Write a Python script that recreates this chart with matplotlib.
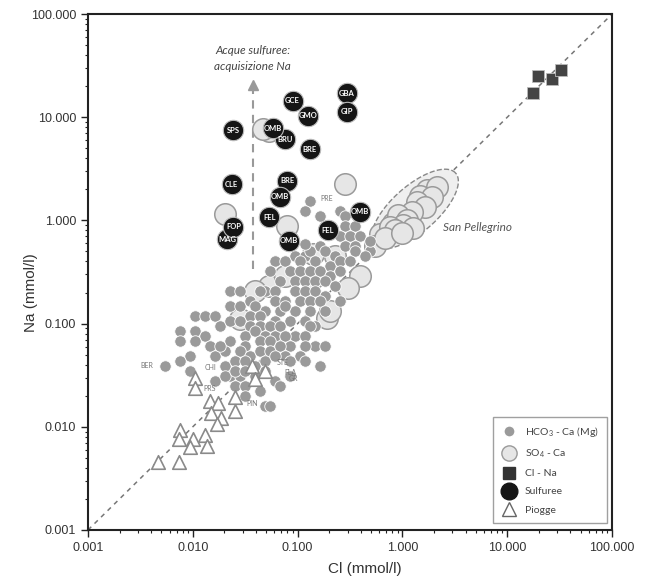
import numpy as np
import matplotlib
matplotlib.use("Agg")
import matplotlib.pyplot as plt
from matplotlib.lines import Line2D
from matplotlib.ticker import LogLocator, FuncFormatter, NullFormatter

plt.rcParams['font.family'] = ['Liberation Sans', 'DejaVu Sans']
plt.rcParams['mathtext.fontset'] = 'custom'
plt.rcParams['mathtext.rm'] = 'Lato'
plt.rcParams['mathtext.default'] = 'rm'

# HCO3 - Ca (Mg) waters, Cl vs Na (mmol/l)
hco3_cl = [0.131, 0.118, 0.254, 0.164, 0.283, 0.283, 0.353, 0.254, 0.316, 0.394,
           0.491, 0.164, 0.283, 0.353, 0.491, 0.0944, 0.118, 0.131, 0.183, 0.227,
           0.353, 0.440, 0.0609, 0.0758, 0.105, 0.147, 0.204, 0.254, 0.316, 0.0546,
           0.0846, 0.105, 0.131, 0.164, 0.204, 0.254, 0.0679, 0.0944, 0.118, 0.147,
           0.183, 0.227, 0.0489, 0.0609, 0.0944, 0.118, 0.147, 0.183, 0.0609, 0.0758,
           0.105, 0.131, 0.164, 0.254, 0.0489, 0.0679, 0.0944, 0.131, 0.183, 0.0609,
           0.0846, 0.118, 0.147, 0.0226, 0.0282, 0.0438, 0.0226, 0.0282, 0.0352, 0.0392,
           0.0105, 0.0131, 0.0163, 0.0352, 0.0438, 0.0182, 0.0226, 0.0282, 0.0352, 0.0438,
           0.0546, 0.00755, 0.0105, 0.0131, 0.0226, 0.0315, 0.0392, 0.0489, 0.0609, 0.00755,
           0.0105, 0.0146, 0.0315, 0.0438, 0.0546, 0.00939, 0.0163, 0.0203, 0.0282, 0.0352,
           0.0438, 0.0546, 0.00543, 0.00755, 0.0203, 0.0253, 0.0315, 0.0392, 0.0489, 0.0226,
           0.0282, 0.0392, 0.0489, 0.0253, 0.0315, 0.0438, 0.0758, 0.131, 0.0679, 0.0944,
           0.118, 0.0758, 0.147, 0.183, 0.118, 0.0846, 0.0679, 0.105, 0.0758, 0.0609,
           0.0846, 0.118, 0.164, 0.0609, 0.0679, 0.0489, 0.0546, 0.00939, 0.0163, 0.0203,
           0.0315, 0.0846, 0.0182, 0.0253, 0.0315, 0.118]
hco3_na = [1.55, 1.24, 1.24, 1.11, 1.11, 0.887, 0.887, 0.710, 0.710, 0.710,
           0.507, 0.567, 0.567, 0.567, 0.634, 0.454, 0.454, 0.507, 0.507, 0.454,
           0.507, 0.454, 0.406, 0.406, 0.406, 0.406, 0.363, 0.406, 0.406, 0.325,
           0.325, 0.325, 0.325, 0.325, 0.291, 0.325, 0.260, 0.260, 0.260, 0.260,
           0.260, 0.232, 0.208, 0.208, 0.208, 0.208, 0.208, 0.186, 0.166, 0.166,
           0.166, 0.166, 0.166, 0.166, 0.133, 0.133, 0.133, 0.133, 0.133, 0.106,
           0.106, 0.106, 0.0952, 0.208, 0.208, 0.208, 0.149, 0.149, 0.166, 0.149,
           0.119, 0.119, 0.119, 0.119, 0.119, 0.0952, 0.106, 0.106, 0.0952, 0.0952,
           0.0952, 0.0851, 0.0851, 0.0762, 0.0681, 0.0762, 0.0851, 0.0762, 0.0762, 0.0681,
           0.0681, 0.0609, 0.0609, 0.0681, 0.0681, 0.0487, 0.0487, 0.0545, 0.0545, 0.0487,
           0.0545, 0.0545, 0.0390, 0.0436, 0.0390, 0.0436, 0.0436, 0.0390, 0.0436, 0.0312,
           0.0312, 0.0312, 0.0349, 0.0249, 0.0249, 0.0223, 0.149, 0.0952, 0.0952, 0.0762,
           0.0762, 0.0762, 0.0609, 0.0609, 0.0609, 0.0609, 0.0609, 0.0487, 0.0487, 0.0487,
           0.0436, 0.0436, 0.0390, 0.0279, 0.0249, 0.0160, 0.0160, 0.0349, 0.0279, 0.0312,
           0.0200, 0.0312, 0.0609, 0.0349, 0.0349, 0.593]

# SO4 - Ca waters (last 15 = San Pellegrino group)
so4_cl = [0.283, 0.0203, 0.0792, 0.0533, 0.0468, 0.813, 0.611, 0.548, 0.394, 0.303,
          0.191, 0.204, 0.0533, 0.0758, 0.140, 0.140, 0.0282, 0.0392, 0.227,
          1.71, 2.12, 1.47, 1.91, 1.37, 1.64, 1.23, 0.914, 1.10, 1.02,
          0.762, 0.85, 0.68, 1.27, 0.98]
so4_na = [2.26, 1.16, 0.887, 7.39, 7.72, 0.948, 0.741, 0.567, 0.291, 0.222,
          0.114, 0.133, 0.232, 0.291, 0.278, 0.475, 0.111, 0.208, 0.454,
          1.97, 2.11, 1.72, 1.70, 1.52, 1.36, 1.21, 1.13, 1.01, 0.90,
          0.87, 0.81, 0.67, 0.84, 0.75]

# Cl - Na waters
clna_cl = [17.6, 19.7, 26.8, 32.6]
clna_na = [17.2, 25.2, 23.6, 28.8]

# sulphur waters
sulf_names = ['GBA', 'GIP', 'GCE', 'GMO', 'SPS', 'BRU', 'OMB', 'BRE', 'CLE', 'BRE',
              'OMB', 'OMB', 'FEL', 'MAG', 'FOP', 'FEL', 'OMB']
sulf_cl = [0.294, 0.294, 0.0897, 0.126, 0.0244, 0.0759, 0.0586, 0.131, 0.0235, 0.0798,
           0.0679, 0.394, 0.0537, 0.0213, 0.0244, 0.194, 0.0834]
sulf_na = [17.0, 11.3, 14.4, 10.3, 7.5, 6.1, 7.8, 4.89, 2.24, 2.43,
           1.70, 1.21, 1.07, 0.656, 0.869, 0.807, 0.635]

# rain
rain_cl = [0.0105, 0.0105, 0.0146, 0.0174, 0.0253, 0.0253, 0.0149, 0.0186, 0.0170, 0.00755,
           0.00738, 0.01005, 0.0094, 0.0131, 0.01366, 0.00466, 0.00738, 0.0367, 0.0489, 0.0392]
rain_na = [0.0298, 0.0239, 0.0179, 0.0171, 0.0195, 0.0143, 0.0137, 0.0122, 0.0107, 0.00935,
           0.00765, 0.00765, 0.0064, 0.00836, 0.00655, 0.00458, 0.00458, 0.0390, 0.0349, 0.0292]

# small site labels
site_names = ['BER', 'CHI', 'PRS', 'PIN', 'STE', 'FLA', 'GR', 'PRE']
site_cl = [0.00366, 0.0146, 0.0146, 0.0367, 0.0725, 0.0846, 0.0904, 0.191]
site_na = [0.0390, 0.0373, 0.0233, 0.0167, 0.0417, 0.0334, 0.0292, 1.62]

fig = plt.figure(figsize=(6.47, 5.81), dpi=100)
ax = fig.add_axes([0.136, 0.0878, 0.810, 0.888])
ax.set_xscale('log')
ax.set_yscale('log')
ax.set_xlim(0.001, 100)
ax.set_ylim(0.001, 100)

# 1:1 line
ax.plot([0.001, 100], [0.001, 100], ls=(0, (3, 3)), color='#777777', lw=1.1, zorder=1)

# San Pellegrino envelope (ellipse in log space)
t = np.linspace(0, 2 * np.pi, 200)
ang = np.deg2rad(42)
ex = 0.12 + 0.52 * np.cos(t) * np.cos(ang) - 0.22 * np.sin(t) * np.sin(ang)
ey = 0.112 + 0.52 * np.cos(t) * np.sin(ang) + 0.22 * np.sin(t) * np.cos(ang)
ax.fill(10 ** ex, 10 ** ey, facecolor='#efefef', edgecolor='#888888', ls='--', lw=1, zorder=2)
ax.text(2.44, 0.848, 'San Pellegrino', family='Lato', style='italic', fontsize=8.5,
        color='#555555', va='center', ha='left')

# arrow for sulphur waters
ax.plot([0.0373, 0.0373], [0.34, 18.8], ls=(0, (4, 3)), color='#999999', lw=1.5, zorder=1)
ax.plot([0.0373], [20.6], marker='^', ms=7, color='#999999', zorder=1)
ax.text(0.0373, 37.2, 'Acque sulfuree:\nacquisizione Na', family='Lato', style='italic',
        fontsize=8.5, color='#444444', ha='center', va='center', linespacing=1.5)

ax.scatter(so4_cl, so4_na, s=240, facecolor='#e6e6e6', edgecolor='#9a9a9a', lw=1.1, zorder=3)
ax.scatter(hco3_cl, hco3_na, s=68, facecolor='#9a9a9a', edgecolor='white', lw=0.6, zorder=4)
ax.scatter(rain_cl, rain_na, s=95, marker='^', facecolor='white', edgecolor='#8a8a8a', lw=1.2, zorder=5)
ax.scatter(clna_cl, clna_na, s=80, marker='s', facecolor='#444444', edgecolor='#bbbbbb', lw=0.6, zorder=5)

for n, x, y in zip(sulf_names, sulf_cl, sulf_na):
    ax.scatter([x], [y], s=215, facecolor='#151515', edgecolor='#bbbbbb', lw=0.8, zorder=6)
    ax.text(x, y, n, family='Lato', weight='bold', fontsize=5.5, color='white',
            ha='center', va='center', zorder=7)

for n, x, y in zip(site_names, site_cl, site_na):
    ax.text(x, y, n, family='Lato', fontsize=5, color='#777777', ha='center', va='center', zorder=7)

# axes style
for s in ax.spines.values():
    s.set_linewidth(1.5)
    s.set_color('#222222')
fmt = FuncFormatter(lambda v, p: f'{v:.3f}')
for axis in (ax.xaxis, ax.yaxis):
    axis.set_major_locator(LogLocator(base=10))
    axis.set_minor_locator(LogLocator(base=10, subs=np.arange(2, 10)))
    axis.set_major_formatter(fmt)
    axis.set_minor_formatter(NullFormatter())
ax.tick_params(which='major', length=5, width=1, labelsize=9, colors='#222222', labelcolor='#333333')
ax.tick_params(which='minor', length=2.5, width=0.8, colors='#222222')
ax.set_xlabel('Cl (mmol/l)', fontsize=11, color='#333333')
ax.set_ylabel('Na (mmol/l)', fontsize=11, color='#333333')
ax.xaxis.set_label_coords(0.529, -0.062)
ax.yaxis.set_label_coords(-0.095, 0.461)

handles = [
    Line2D([], [], ls='', marker='o', ms=8, mfc='#9a9a9a', mec='white'),
    Line2D([], [], ls='', marker='o', ms=11, mfc='#e6e6e6', mec='#9a9a9a'),
    Line2D([], [], ls='', marker='s', ms=9, mfc='#333333', mec='#333333'),
    Line2D([], [], ls='', marker='o', ms=12, mfc='#151515', mec='#151515'),
    Line2D([], [], ls='', marker='^', ms=10, mfc='white', mec='#666666'),
]
labels = ['HCO$_3$ - Ca (Mg)', 'SO$_4$ - Ca', 'Cl - Na', 'Sulfuree', 'Piogge']
leg = ax.legend(handles, labels, loc='lower right', bbox_to_anchor=(0.99, 0.0136),
                borderaxespad=0, frameon=True, fancybox=False, edgecolor='#888888',
                prop={'family': 'Lato', 'size': 7.5}, labelspacing=0.85,
                handletextpad=0.8, borderpad=0.8, handlelength=1.5)
leg.get_frame().set_linewidth(1)
for t_ in leg.get_texts():
    t_.set_color('#444444')

fig.savefig('out.png', dpi=100)
